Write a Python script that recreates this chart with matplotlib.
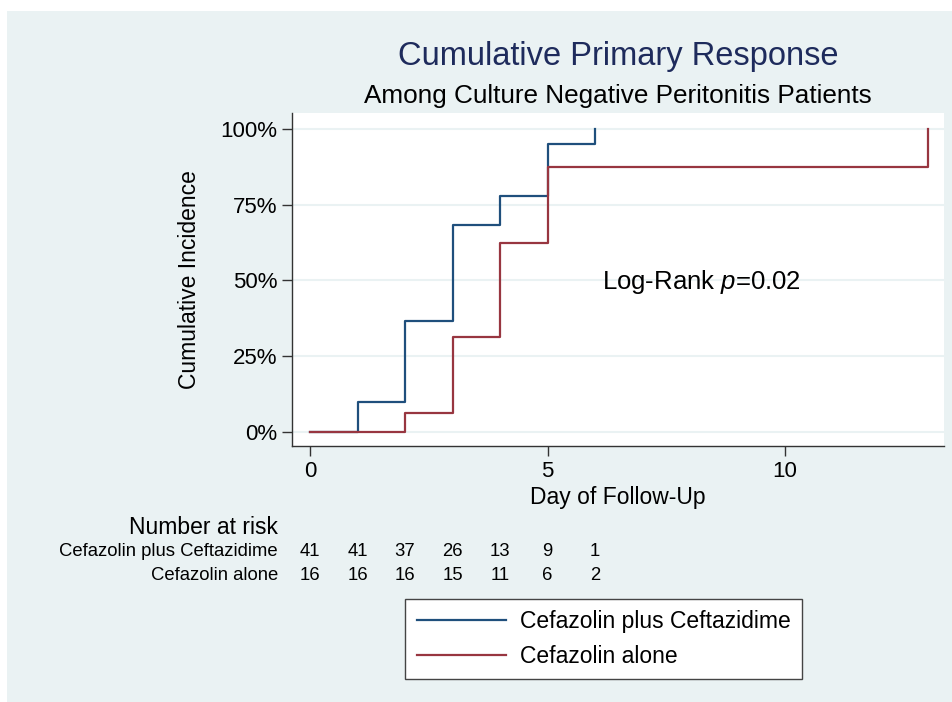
import matplotlib
matplotlib.use('Agg')
import matplotlib.pyplot as plt
from matplotlib.patches import Rectangle
from matplotlib.lines import Line2D
from matplotlib.transforms import blended_transform_factory

plt.rcParams['font.family'] = ['Liberation Sans', 'DejaVu Sans']
plt.rcParams['mathtext.fontset'] = 'custom'
plt.rcParams['mathtext.rm'] = 'Liberation Sans'
plt.rcParams['mathtext.it'] = 'Liberation Sans:italic'

# data
days_combo = [0, 1, 2, 3, 4, 5, 6]
inc_combo = [0, 0.098, 0.366, 0.683, 0.780, 0.951, 1.0]
days_alone = [0, 2, 3, 4, 5, 13]
inc_alone = [0, 0.0625, 0.3125, 0.625, 0.875, 1.0]

risk_days = [0, 1, 2, 3, 4, 5, 6]
risk_combo = [41, 41, 37, 26, 13, 9, 1]
risk_alone = [16, 16, 16, 15, 11, 6, 2]

yticks = [0, 0.25, 0.5, 0.75, 1.0]
ytick_labels = ['0%', '25%', '50%', '75%', '100%']
xticks = [0, 5, 10]

blue = '#1f4f7c'
red = '#983640'
navy = '#1e2b5c'
bg = '#eaf2f3'

W, H = 953, 702
fig = plt.figure(figsize=(W / 100, H / 100), dpi=100)
fig.patch.set_facecolor('white')
fig.patches.append(Rectangle((7 / W, 0), 1 - 7 / W, 1 - 11 / H, transform=fig.transFigure,
                             facecolor=bg, edgecolor='none', zorder=-10))

ax = fig.add_axes([292 / W, 1 - 446 / H, (944 - 292) / W, (446 - 113) / H])
ax.set_facecolor('white')

ax.step(days_combo, inc_combo, where='post', color=blue, lw=1.6)
ax.step(days_alone, inc_alone, where='post', color=red, lw=1.6)

ax.set_xlim(-0.379, 13.347)
ax.set_ylim(-0.047, 1.053)
ax.set_yticks(yticks)
ax.set_yticklabels(ytick_labels)
ax.set_xticks(xticks)
for y in yticks:
    ax.axhline(y, color=bg, lw=1.5, zorder=0)

for s in ['top', 'right']:
    ax.spines[s].set_visible(False)
for s in ['left', 'bottom']:
    ax.spines[s].set_color('#333333')
    ax.spines[s].set_linewidth(1.0)
ax.tick_params(direction='out', length=7, width=1.0, color='#333333',
               labelsize=16, pad=3.5)

ax.set_xlabel('Day of Follow-Up', fontsize=16.5, labelpad=3)
ax.set_ylabel('Cumulative Incidence', fontsize=16.5, labelpad=14)

ax.text(8.25, 0.495, r'Log-Rank $p$=0.02', fontsize=18.5, ha='center', va='center')

fig.text(618 / W, 1 - 57 / H, 'Cumulative Primary Response', fontsize=23.5,
         color=navy, ha='center', va='center')
fig.text(618 / W, 1 - 96 / H, 'Among Culture Negative Peritonitis Patients',
         fontsize=18.8, ha='center', va='center')

# number at risk table
fig.text(278 / W, 1 - 527 / H, 'Number at risk', fontsize=16.5, ha='right', va='center')
fig.text(278 / W, 1 - 551 / H, 'Cefazolin plus Ceftazidime', fontsize=13.3,
         ha='right', va='center')
fig.text(278 / W, 1 - 575 / H, 'Cefazolin alone', fontsize=13.3, ha='right', va='center')
tr = blended_transform_factory(ax.transData, fig.transFigure)
for d, a, b in zip(risk_days, risk_combo, risk_alone):
    ax.text(d, 1 - 551 / H, str(a), transform=tr, fontsize=13.3, ha='center',
            va='center', clip_on=False)
    ax.text(d, 1 - 575 / H, str(b), transform=tr, fontsize=13.3, ha='center',
            va='center', clip_on=False)

handles = [Line2D([], [], color=blue, lw=1.6), Line2D([], [], color=red, lw=1.6)]
leg = fig.legend(handles, ['Cefazolin plus Ceftazidime', 'Cefazolin alone'],
                 loc='center', bbox_to_anchor=(603.5 / W, 1 - 639 / H),
                 fontsize=16.5, handlelength=3.9, handletextpad=0.6,
                 labelspacing=0.5, fancybox=False, framealpha=1,
                 borderpad=0.5, borderaxespad=0)
leg.get_frame().set_edgecolor('#444444')
leg.get_frame().set_linewidth(1.0)

fig.savefig('out.png', dpi=100, facecolor=fig.get_facecolor())
